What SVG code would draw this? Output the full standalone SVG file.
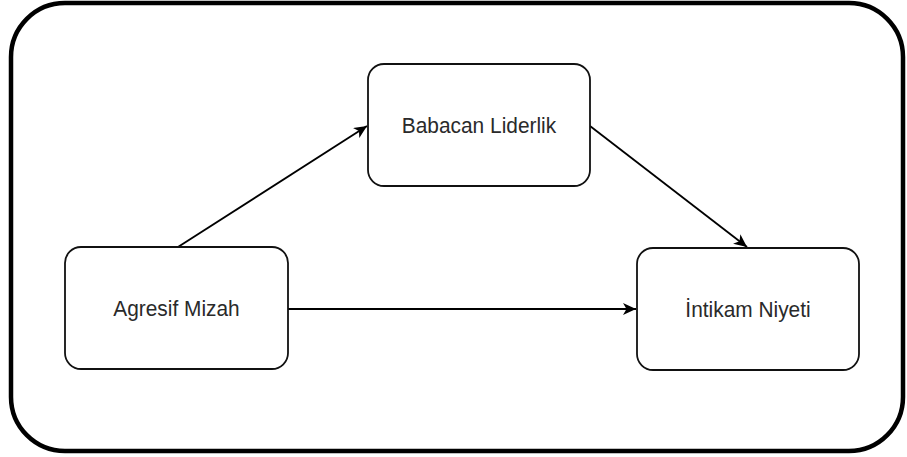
<svg xmlns="http://www.w3.org/2000/svg" width="907" height="457" viewBox="0 0 907 457">
<style>
.box{fill:#fff;stroke:#111;stroke-width:1.8}
.lbl{font-family:"Liberation Sans",Arial,sans-serif;font-size:22px;fill:#2a2a2a;text-anchor:middle}
.edge{stroke:#000;stroke-width:1.8;fill:none;marker-end:url(#arr)}
</style>
<defs>
<marker id="arr" markerWidth="14" markerHeight="12" refX="13" refY="6" orient="auto" markerUnits="userSpaceOnUse">
<path d="M0,0 L13,6 L0,12 L3.5,6 Z" fill="#000"/>
</marker>
</defs>
<rect id="frame" x="11" y="3" width="892" height="448" rx="54" ry="54" fill="#fff" stroke="#000" stroke-width="4.5"/>
<g id="connectors">
<line class="edge" x1="178" y1="247" x2="367" y2="126"/>
<line class="edge" x1="590" y1="126" x2="747" y2="247"/>
<line class="edge" x1="288" y1="309" x2="636" y2="309"/>
</g>
<g id="babacan">
<rect class="box" x="368" y="64" width="222" height="122" rx="16"/>
<text class="lbl" x="479" y="133" transform="translate(479 0) scale(0.95 1) translate(-479 0)">Babacan Liderlik</text>
</g>
<g id="agresif">
<rect class="box" x="65" y="247" width="223" height="122" rx="16"/>
<text class="lbl" x="176.5" y="316" transform="translate(176.5 0) scale(0.95 1) translate(-176.5 0)">Agresif Mizah</text>
</g>
<g id="intikam">
<rect class="box" x="637" y="248" width="222" height="122" rx="16"/>
<text class="lbl" x="748" y="317" transform="translate(748 0) scale(0.95 1) translate(-748 0)">İntikam Niyeti</text>
</g>
</svg>
